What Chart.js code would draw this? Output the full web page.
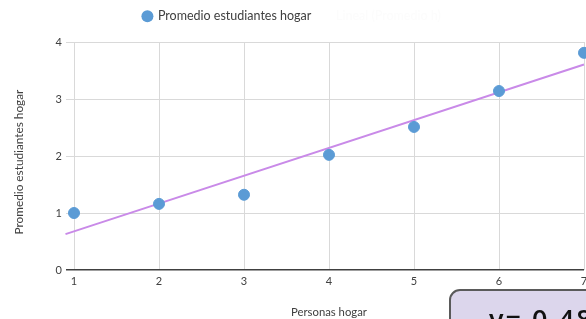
<!DOCTYPE html>
<html>
<head>
<meta charset="utf-8">
<script src="https://cdn.jsdelivr.net/npm/chart.js@4.4.1/dist/chart.umd.min.js"></script>
<style>
  html, body { margin: 0; padding: 0; background: #fff; overflow: hidden; }
  #wrap { position: relative; width: 586px; height: 319px; overflow: hidden; }
  #c { position: absolute; left: 0; top: 0; }
  #eq {
    position: absolute; left: 449px; top: 289px; width: 240px; height: 60px;
    box-sizing: border-box; border: 2px solid #5a5a5a; border-radius: 11px;
    background: #dcd6ec; font-family: "Open Sans", sans-serif; font-weight: 600;
    font-size: 27px; letter-spacing: 2px; color: #111; padding: 14px 0 0 38px;
    white-space: nowrap; line-height: 1;
  }
</style>
</head>
<body>
<div id="wrap">
  <canvas id="c" width="586" height="319"></canvas>
  <div id="eq">y= 0.488x + 0.19</div>
</div>
<script>
const personasHogar = [1, 2, 3, 4, 5, 6, 7];
const promedioEstudiantes = [1.0, 1.16, 1.32, 2.02, 2.51, 3.14, 3.81];
const trendSlope = 0.488;
const trendIntercept = 0.19;
const trendXRange = [0.9, 7];
const serieLabel = 'Promedio estudiantes hogar';
const trendLabel = 'Lineal (Promedio h)';
const xTitle = 'Personas hogar';
const yTitle = 'Promedio estudiantes hogar    ';

const scatterPoints = personasHogar.map((x, i) => ({ x, y: promedioEstudiantes[i] }));
const trendPoints = trendXRange.map(x => ({ x, y: trendSlope * x + trendIntercept }));

const FONT = 'Lato, "Open Sans", sans-serif';

// extra space under the legend
const LegendEl = Chart.Legend._element;
const origFit = LegendEl.prototype.fit;
LegendEl.prototype.fit = function () {
  origFit.call(this);
  if (this.isHorizontal && this.isHorizontal()) this.height += 9.5;
};

new Chart(document.getElementById('c'), {
  type: 'scatter',
  data: {
    datasets: [
      {
        label: serieLabel,
        data: scatterPoints,
        backgroundColor: '#5b9bd5',
        borderColor: '#5b9bd5',
        pointRadius: 5.5,
        pointHoverRadius: 5.5,
        clip: false,
        order: 1
      },
      {
        label: trendLabel,
        data: trendPoints,
        type: 'line',
        showLine: true,
        borderColor: '#c98ae8',
        borderWidth: 2,
        pointRadius: 0,
        fill: false,
        clip: false,
        order: 2
      }
    ]
  },
  options: {
    responsive: false,
    animation: false,
    devicePixelRatio: 1,
    layout: { autoPadding: false, padding: { left: 0, right: 2, top: 0, bottom: 0 } },
    plugins: {
      tooltip: { enabled: false },
      legend: {
        display: true,
        position: 'top',
        labels: {
          usePointStyle: true,
          pointStyle: 'circle',
          boxWidth: 8.5,
          boxHeight: 8.5,
          padding: 10,
          color: '#404040',
          font: { family: FONT, size: 12.5 },
          generateLabels: (chart) => {
            const ds = chart.data.datasets;
            return [
              { text: ds[0].label, fillStyle: '#5b9bd5', strokeStyle: '#5b9bd5', lineWidth: 0, pointStyle: 'circle', datasetIndex: 0, fontColor: '#404040' },
              { text: ds[1].label, fillStyle: 'rgba(0,0,0,0)', strokeStyle: 'rgba(0,0,0,0)', lineWidth: 0, pointStyle: 'circle', datasetIndex: 1, fontColor: 'rgba(250,250,250,0.5)' }
            ];
          }
        }
      }
    },
    scales: {
      x: {
        type: 'linear',
        min: 1, max: 7,
        afterFit: s => { s.height = 49; s.paddingRight = 0; s.paddingLeft = 0; },
        ticks: { stepSize: 1, color: '#404040', font: { family: FONT, size: 11 }, padding: 5 },
        grid: { color: '#d9d9d9', drawTicks: false, lineWidth: 1 },
        border: { display: false },
        title: { display: true, text: xTitle, color: '#404040', font: { family: FONT, size: 11.3 }, padding: { top: 21, bottom: 0 } }
      },
      y: {
        min: 0, max: 4,
        afterFit: s => { s.width = 74; },
        ticks: { stepSize: 1, color: '#404040', font: { family: FONT, size: 11 }, padding: 4 },
        grid: {
          color: c => (c.tick && c.tick.value === 0) ? '#404040' : '#d9d9d9',
          lineWidth: c => (c.tick && c.tick.value === 0) ? 1.5 : 1,
          tickLength: 8
        },
        border: { display: false },
        title: { display: true, text: yTitle, color: '#404040', font: { family: FONT, size: 11.8 }, padding: { top: 12, bottom: 0 } }
      }
    }
  }
});
</script>
</body>
</html>
